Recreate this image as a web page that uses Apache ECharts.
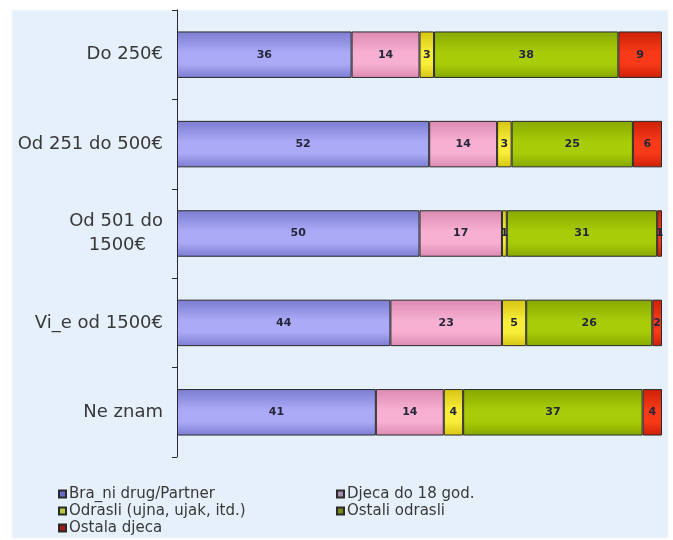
<!DOCTYPE html>
<html>
<head>
<meta charset="utf-8">
<script src="https://cdn.jsdelivr.net/npm/echarts@6/dist/echarts.min.js"></script>
<style>
  html, body { margin: 0; padding: 0; background: #ffffff; }
  #chart { width: 673px; height: 540px; }
</style>
</head>
<body>
<div id="chart"></div>
<script>
// Income brackets (top to bottom)
const categories = ['Do 250€', 'Od 251 do 500€', 'Od 501 do\n1500€', 'Vi_e od 1500€', 'Ne znam'];

// Share of each group per bracket (%)
const seriesNames = ['Bra_ni drug/Partner', 'Djeca do 18 god.', 'Odrasli (ujna, ujak, itd.)', 'Ostali odrasli', 'Ostala djeca'];
const partner      = [36, 52, 50, 44, 41];
const djeca18      = [14, 14, 17, 23, 14];
const odrasliRod   = [3, 3, 1, 5, 4];
const ostaliOdr    = [38, 25, 31, 26, 37];
const ostalaDjeca  = [9, 6, 1, 2, 4];
const seriesValues = [partner, djeca18, odrasliRod, ostaliOdr, ostalaDjeca];

// Base colours plus edge shades for a soft cylinder look
const palette = [
  { mid: '#aaaaf6', edge: '#7c7cd2', icon: '#6a6ac8' },
  { mid: '#f7b0d2', edge: '#dc8ab2', icon: '#a58cb0' },
  { mid: '#f8ee3a', edge: '#d6c412', icon: '#b8c83a' },
  { mid: '#a8cc08', edge: '#86a800', icon: '#7a8a18' },
  { mid: '#f83a18', edge: '#cc2008', icon: '#a01818' }
];

function shade(p) {
  return new echarts.graphic.LinearGradient(0, 0, 0, 1, [
    { offset: 0, color: p.edge },
    { offset: 0.45, color: p.mid },
    { offset: 0.7, color: p.mid },
    { offset: 1, color: p.edge }
  ]);
}

const FONT = 'DejaVu Sans';
const LABEL_SIZE = 18;

const series = seriesNames.map((name, i) => ({
  name: name,
  type: 'bar',
  stack: 'total',
  barWidth: '52%',
  data: seriesValues[i],
  itemStyle: { color: shade(palette[i]), borderColor: '#2a2a2a', borderWidth: 1 },
  label: {
    show: true,
    position: 'inside',
    fontFamily: FONT,
    fontSize: 11,
    fontWeight: 'bold',
    color: '#26263a'
  },
  emphasis: { disabled: true }
}));

const legendIcon = (i) => ({ name: seriesNames[i], itemStyle: { color: palette[i].icon } });

// Two legend columns, filled top to bottom
function legendColumn(left, items) {
  return {
    orient: 'vertical',
    left: left,
    top: 481,
    height: 60,
    itemWidth: 7,
    itemHeight: 7,
    itemGap: 1,
    icon: 'rect',
    textStyle: { fontFamily: FONT, fontSize: 15, lineHeight: 16, color: '#383838', padding: [0, 0, 0, -2] },
    data: items,
    selectedMode: false
  };
}

const chart = echarts.init(document.getElementById('chart'), null, { renderer: 'canvas' });
chart.setOption({
  animation: false,
  backgroundColor: '#ffffff',
  graphic: [{
    type: 'rect',
    z: -10,
    shape: { x: 12, y: 10, width: 656, height: 528 },
    style: { fill: '#e6f0fa', stroke: '#f4f8fc', lineWidth: 1 }
  }],
  grid: { left: 177, right: 11, top: 10, bottom: 83 },
  xAxis: {
    type: 'value',
    min: 0,
    max: 100,
    show: false
  },
  yAxis: {
    type: 'category',
    inverse: true,
    data: categories,
    axisLine: { lineStyle: { color: '#2a2a2a', width: 1 } },
    axisTick: { show: true, length: 5, lineStyle: { color: '#2a2a2a' } },
    axisLabel: {
      margin: 14,
      fontFamily: FONT,
      fontSize: LABEL_SIZE,
      lineHeight: 24,
      color: '#383838',
      formatter: function (v) {
        const lines = v.split('\n');
        if (lines.length === 1) return v;
        return '{a|' + lines[0] + '}\n{b|' + lines[1] + '}';
      },
      rich: {
        a: { fontFamily: FONT, fontSize: LABEL_SIZE, lineHeight: 24, color: '#383838' },
        b: { fontFamily: FONT, fontSize: LABEL_SIZE, lineHeight: 24, color: '#383838', padding: [0, 17, 0, 0] }
      }
    }
  },
  legend: [
    legendColumn(53, [legendIcon(0), legendIcon(2), legendIcon(4)]),
    legendColumn(331, [legendIcon(1), legendIcon(3)])
  ],
  series: series
});
</script>
</body>
</html>
